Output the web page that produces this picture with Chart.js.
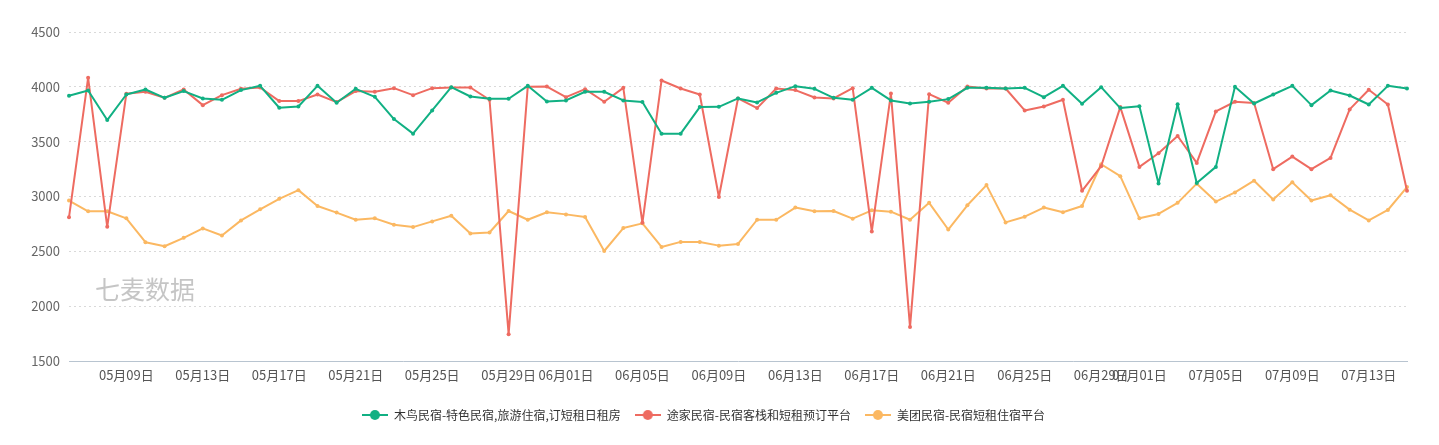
<!DOCTYPE html>
<html>
<head>
<meta charset="utf-8">
<script src="https://cdn.jsdelivr.net/npm/chart.js@4.4.0/dist/chart.umd.min.js"></script>
<style>
  html, body { margin: 0; padding: 0; background: #fff; }
  #wrap { width: 1439px; height: 445px; position: relative; }
</style>
</head>
<body>
<div id="wrap"><canvas id="c" width="1439" height="445"></canvas></div>
<script>
const categories = [
  "05月06日","05月07日","05月08日","05月09日","05月10日","05月11日","05月12日","05月13日","05月14日","05月15日",
  "05月16日","05月17日","05月18日","05月19日","05月20日","05月21日","05月22日","05月23日","05月24日","05月25日",
  "05月26日","05月27日","05月28日","05月29日","05月30日","05月31日","06月01日","06月02日","06月03日","06月04日",
  "06月05日","06月06日","06月07日","06月08日","06月09日","06月10日","06月11日","06月12日","06月13日","06月14日",
  "06月15日","06月16日","06月17日","06月18日","06月19日","06月20日","06月21日","06月22日","06月23日","06月24日",
  "06月25日","06月26日","06月27日","06月28日","06月29日","06月30日","07月01日","07月02日","07月03日","07月04日",
  "07月05日","07月06日","07月07日","07月08日","07月09日","07月10日","07月11日","07月12日","07月13日","07月14日",
  "07月15日"
];
const tickDays = ["01","05","09","13","17","21","25","29"];
const yTicks = [1500, 2000, 2500, 3000, 3500, 4000, 4500];

const seriesNames = ["木鸟民宿-特色民宿,旅游住宿,订短租日租房", "途家民宿-民宿客栈和短租预订平台", "美团民宿-民宿短租住宿平台"];

const muniao = [
  3918,3967,3697,3930,3976,3900,3961,3894,3882,3970,
  4009,3809,3821,4009,3855,3982,3909,3706,3573,3785,
  3997,3912,3891,3891,4009,3867,3876,3955,3955,3876,
  3861,3573,3573,3815,3818,3894,3858,3945,4006,3982,
  3900,3882,3991,3876,3848,3864,3888,3991,3991,3985,
  3991,3906,4009,3845,3997,3806,3824,3118,3842,3124,
  3270,4000,3848,3930,4009,3833,3967,3921,3839,4009,
  3985
];
const tujia = [
  2810,4082,2724,3936,3955,3900,3976,3833,3924,3982,
  3994,3870,3870,3930,3861,3961,3955,3988,3924,3988,
  3994,3994,3882,1745,4000,4003,3906,3979,3864,3991,
  2760,4058,3985,3930,2995,3894,3806,3985,3970,3903,
  3894,3988,2681,3939,1809,3933,3855,4003,3985,3985,
  3785,3821,3882,3052,3276,3815,3270,3394,3552,3306,
  3776,3864,3852,3249,3364,3249,3352,3794,3973,3839,
  3052
];
const meituan = [
  2963,2865,2865,2801,2583,2546,2623,2709,2644,2782,
  2883,2979,3058,2914,2853,2788,2801,2742,2721,2773,
  2825,2663,2672,2868,2788,2856,2837,2813,2503,2712,
  2755,2540,2586,2586,2552,2567,2788,2788,2899,2865,
  2868,2798,2874,2862,2788,2942,2699,2920,3104,2764,
  2816,2899,2856,2914,3294,3185,2801,2841,2942,3117,
  2954,3037,3144,2972,3129,2963,3012,2880,2782,2877,
  3086
];

const colors = ["#11b083", "#ee6b61", "#fbb862"];
const FONT = "'Noto Sans CJK SC', 'Microsoft YaHei', sans-serif";

function legendIcon(color) {
  const cv = document.createElement('canvas');
  cv.width = 26; cv.height = 12;
  const g = cv.getContext('2d');
  g.strokeStyle = color; g.lineWidth = 2;
  g.beginPath(); g.moveTo(0, 6); g.lineTo(26, 6); g.stroke();
  g.fillStyle = color;
  g.beginPath(); g.arc(13, 6, 5, 0, Math.PI * 2); g.fill();
  return cv;
}
const icons = colors.map(legendIcon);

const watermark = {
  id: 'watermark',
  beforeDatasetsDraw(chart) {
    const ctx = chart.ctx;
    ctx.save();
    ctx.font = "25px " + FONT;
    ctx.fillStyle = "rgba(150,150,150,0.55)";
    ctx.textAlign = "left";
    ctx.textBaseline = "middle";
    ctx.fillText("七麦数据", 95, 289);
    ctx.restore();
  }
};

const datasets = [muniao, tujia, meituan].map((d, i) => ({
  label: seriesNames[i],
  data: d,
  borderColor: colors[i],
  backgroundColor: colors[i],
  borderWidth: 2,
  borderJoinStyle: 'round',
  pointRadius: 2,
  pointHoverRadius: 3,
  pointBackgroundColor: colors[i],
  pointBorderWidth: 0,
  tension: 0,
  fill: false
}));

new Chart(document.getElementById('c'), {
  type: 'line',
  data: { labels: categories, datasets },
  plugins: [watermark],
  options: {
    responsive: false,
    animation: false,
    events: [],
    layout: { padding: { left: 0, right: 32, top: 32, bottom: 14 } },
    plugins: {
      tooltip: { enabled: false },
      legend: {
        position: 'bottom',
        labels: {
          usePointStyle: true,
          pointStyleWidth: 26,
          padding: 14,
          color: '#333',
          font: { family: FONT, size: 12 },
          generateLabels(chart) {
            return chart.data.datasets.map((ds, i) => ({
              text: ds.label,
              pointStyle: icons[i],
              fillStyle: colors[i],
              strokeStyle: colors[i],
              lineWidth: 0,
              fontColor: '#333',
              hidden: false,
              datasetIndex: i
            }));
          }
        }
      }
    },
    scales: {
      x: {
        type: 'category',
        offset: false,
        grid: { display: false, drawTicks: false },
        border: { display: true, color: '#b8c4d0', width: 1 },
        ticks: {
          autoSkip: false,
          maxRotation: 0,
          minRotation: 0,
          padding: 6,
          color: '#555',
          font: { family: FONT, size: 13 },
          callback(value) {
            const lab = categories[value];
            return tickDays.includes(lab.slice(3, 5)) ? lab : '';
          }
        },
        afterFit(scale) { scale.height = 34; }
      },
      y: {
        min: 1500,
        max: 4500,
        afterBuildTicks(scale) { scale.ticks = yTicks.map(v => ({ value: v })); },
        grid: { color: '#d9d9d9', lineWidth: 1, drawTicks: false },
        border: { display: false, dash: [2, 3] },
        ticks: {
          padding: 9,
          color: '#666',
          font: { family: FONT, size: 13 },
          callback(value) { return String(value); }
        },
        afterFit(scale) { scale.width = 69; }
      }
    }
  }
});
</script>
</body>
</html>
